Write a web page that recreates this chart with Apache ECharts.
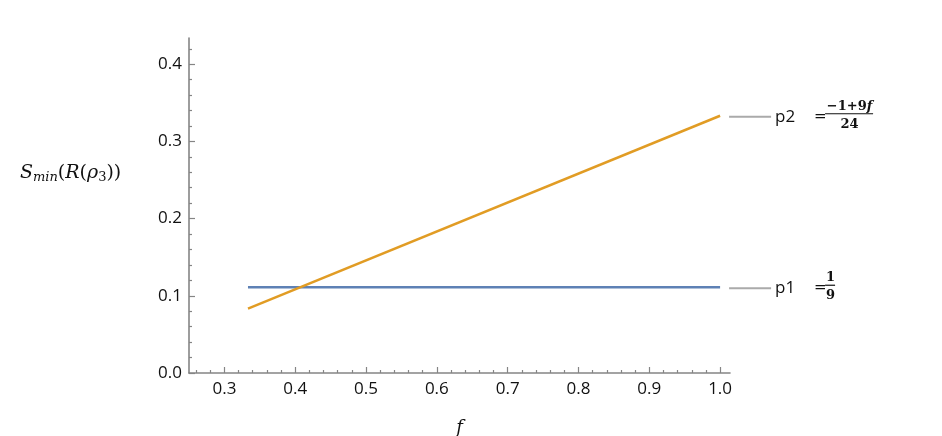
<!DOCTYPE html>
<html>
<head>
<meta charset="utf-8">
<script src="https://cdn.jsdelivr.net/npm/echarts@6/dist/echarts.min.js"></script>
<style>
  html, body { margin: 0; padding: 0; background: #fff; }
  #chart { width: 942px; height: 436px; }
</style>
</head>
<body>
<div id="chart"></div>
<script>
// values
var fValues = [0.3333, 1.0];
var p1Values = [0.1111, 0.1111];
var p2Values = [0.0833, 0.3333];
var xTicks = [0.3, 0.4, 0.5, 0.6, 0.7, 0.8, 0.9, 1.0];
var xMinorTicks = [0.26, 0.28, 0.32, 0.34, 0.36, 0.38, 0.42, 0.44, 0.46, 0.48, 0.52, 0.54, 0.56, 0.58,
  0.62, 0.64, 0.66, 0.68, 0.72, 0.74, 0.76, 0.78, 0.82, 0.84, 0.86, 0.88, 0.92, 0.94, 0.96, 0.98];
var yTicks = [0.0, 0.1, 0.2, 0.3, 0.4];
var yMinorTicks = [0.02, 0.04, 0.06, 0.08, 0.12, 0.14, 0.16, 0.18, 0.22, 0.24, 0.26, 0.28,
  0.32, 0.34, 0.36, 0.38, 0.42];

var axisColor = '#858585';
var labelFont = '"Open Sans", "Noto Sans", sans-serif';
var serif = '"DejaVu Serif", "Liberation Serif", serif';

var chart = echarts.init(document.getElementById('chart'));

function pairs(xs, ys) {
  return xs.map(function (x, i) { return [x, ys[i]]; });
}

var option = {
  animation: false,
  grid: { left: 189, top: 38, right: 212, bottom: 63, outerBoundsMode: 'none', containLabel: false },
  xAxis: [{
    type: 'value', min: 0.25, max: 1.014,
    axisLine: { show: true, lineStyle: { color: axisColor, width: 1.6 } },
    axisTick: { show: true, inside: true, length: 6, customValues: xTicks, lineStyle: { color: axisColor, width: 1.2 } },
    axisLabel: { customValues: xTicks, formatter: function (v) { return v.toFixed(1); },
      color: '#111', fontSize: 17, fontFamily: labelFont, margin: 8 },
    splitLine: { show: false },
    name: 'f', nameLocation: 'middle', nameGap: 46,
    nameTextStyle: { fontFamily: serif, fontStyle: 'italic', fontSize: 18, color: '#111' }
  }, {
    type: 'value', min: 0.25, max: 1.014, position: 'bottom',
    axisLine: { show: false },
    axisTick: { show: true, inside: true, length: 3, customValues: xMinorTicks, lineStyle: { color: axisColor, width: 1.2 } },
    axisLabel: { show: false },
    splitLine: { show: false }
  }],
  yAxis: [{
    type: 'value', min: 0, max: 0.434,
    axisLine: { show: true, lineStyle: { color: axisColor, width: 1.6 } },
    axisTick: { show: true, inside: true, length: 6, customValues: yTicks, lineStyle: { color: axisColor, width: 1.2 } },
    axisLabel: { customValues: yTicks, formatter: function (v) { return v.toFixed(1); },
      color: '#111', fontSize: 17, fontFamily: labelFont, margin: 7 },
    splitLine: { show: false }
  }, {
    type: 'value', min: 0, max: 0.434, position: 'left',
    axisLine: { show: false },
    axisTick: { show: true, inside: true, length: 3, customValues: yMinorTicks, lineStyle: { color: axisColor, width: 1.2 } },
    axisLabel: { show: false },
    splitLine: { show: false }
  }],
  series: [{
    name: 'p1', type: 'line', data: pairs(fValues, p1Values),
    showSymbol: false, lineStyle: { color: '#5e81b5', width: 2.5 }
  }, {
    name: 'p2', type: 'line', data: pairs(fValues, p2Values),
    showSymbol: false, lineStyle: { color: '#e19c24', width: 2.5 }
  }]
};
chart.setOption(option);

// right-hand labels, anchored to the last data point of each series
function seriesLabel(name, yVal, num, den, barW) {
  var pt = chart.convertToPixel({ gridIndex: 0 }, [fValues[fValues.length - 1], yVal]);
  var x0 = pt[0] + 9, y0 = pt[1] + 1;
  var items = [
    { type: 'line', shape: { x1: x0, y1: y0, x2: x0 + 42, y2: y0 }, style: { stroke: '#aaaaaa', lineWidth: 2 } },
    { type: 'text', x: x0 + 46, y: y0, style: { text: name, fontSize: 17, fontFamily: labelFont, fill: '#111', verticalAlign: 'middle' } }
  ];
  var fx = x0 + 85;
  items.push({ type: 'text', x: fx, y: y0, style: { text: '=', fontSize: 15, fontFamily: serif, fill: '#111', verticalAlign: 'middle' } });
  items.push({ type: 'line', shape: { x1: fx + 11, y1: y0 - 3, x2: fx + 12 + barW, y2: y0 - 3 }, style: { stroke: '#111', lineWidth: 1.2 } });
  items.push({ type: 'text', x: fx + 12 + barW / 2, y: y0 - 4, style: { text: num, rich: { i: { fontStyle: 'italic', fontWeight: 'bold', fontFamily: serif, fontSize: 13, fill: '#111' } },
    fontSize: 13, fontWeight: 'bold', fontFamily: serif, fill: '#111', align: 'center', verticalAlign: 'bottom' } });
  items.push({ type: 'text', x: fx + 12 + barW / 2, y: y0 + 1, style: { text: den, fontSize: 13, fontWeight: 'bold', fontFamily: serif, fill: '#111', align: 'center', verticalAlign: 'top' } });
  return items;
}

var graphics = [].concat(
  seriesLabel('p2', p2Values[p2Values.length - 1], '\u22121+9{i|f}', '24', 47),
  seriesLabel('p1', p1Values[p1Values.length - 1], '1', '9', 9)
);
graphics.push({
  type: 'text', left: 20, top: 164,
  style: {
    text: '{i|S}{sub|min}{s|(}{i|R}{s|(}{i|\u03c1}{sub2|3}{s|))}',
    rich: {
      s: { fontFamily: serif, fontSize: 19, fill: '#111' },
      i: { fontFamily: serif, fontStyle: 'italic', fontSize: 19, fill: '#111' },
      sub: { fontFamily: serif, fontStyle: 'italic', fontSize: 13, fill: '#111', padding: [9, 0, 0, 0] },
      sub2: { fontFamily: serif, fontSize: 13, fill: '#111', padding: [9, 0, 0, 0] }
    }
  }
});
chart.setOption({ graphic: graphics });
</script>
</body>
</html>
